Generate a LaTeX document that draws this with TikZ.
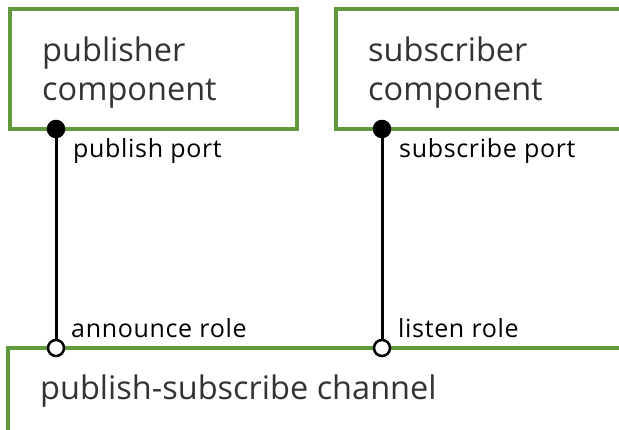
\documentclass[tikz,border=0pt]{standalone}
\usepackage{fontspec}
\setmainfont{Open Sans}
\newfontfamily\labelfont[LetterSpace=2.7]{Open Sans}
\usepackage{tikz}
\usetikzlibrary{positioning}
\definecolor{frame}{RGB}{96,153,62}
\definecolor{ink}{RGB}{51,51,51}
\tikzset{
    comp/.style={
        rectangle,
        draw=frame,
        line width=3.5pt,
        anchor=north west,
        inner sep=0pt,
        outer sep=0pt
    },
    title/.style={
        text=ink,
        align=left,
        inner sep=0pt,
        font=\fontsize{32.5}{38.5}\selectfont
    },
    lbl/.style={
        anchor=base west,
        inner sep=0pt,
        font=\labelfont\fontsize{25}{30}\selectfont
    },
    port/.style={
        circle,
        draw=black,
        fill=black,
        line width=1.5pt,
        minimum size=17pt,
        inner sep=0pt
    },
    role/.style={
        port,
        fill=white,
        line width=2.5pt,
        minimum size=16pt
    },
    wire/.style={
        line width=3pt
    }
}

\begin{document}
\begin{tikzpicture}[x=1pt,y=-1pt]
          \path[use as bounding box, clip] (0,0) rectangle (619,429);
          % components and channel
          \node (pub) [comp, minimum width=287pt, minimum height=120pt] at (10,9) {};
          \node (sub) [comp, minimum width=320pt, minimum height=120pt] at (336,9) {};
          \node (chan) [comp, minimum width=700pt, minimum height=120pt] at (8,348) {};
          \node (pubname) [title, below right=28pt and 32pt of pub.north west] {publisher\\component};
          \node (subname) [title, below right=28pt and 32pt of sub.north west] {subscriber\\component};
          \node (channame) [title, anchor=base west] at (40,399) {publish-subscribe channel};
          % ports and roles
          \node (pubport) [port] at (56,129) {};
          \node (subport) [port] at (382,129) {};
          \node (announce) [role] at (56,348) {};
          \node (listen) [role] at (382,348) {};
          \draw [wire] (pubport) -- (announce);
          \draw [wire] (subport) -- (listen);
          \node (pubportlbl) [lbl] at (73,157) {publish port};
          \node (subportlbl) [lbl] at (399,157) {subscribe port};
          \node (announcelbl) [lbl] at (71,337) {announce role};
          \node (listenlbl) [lbl] at (398,337) {listen role};
        \end{tikzpicture}
\end{document}
